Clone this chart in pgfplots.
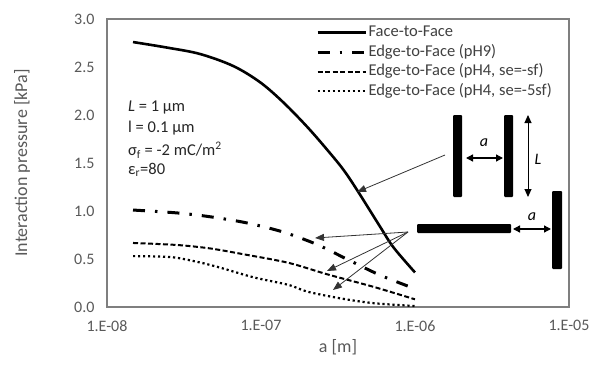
\documentclass[border=0pt]{standalone}
\usepackage{pgfplots}
\pgfplotsset{compat=1.18}
\usetikzlibrary{arrows.meta}
\usepackage{fontspec}
\setmainfont{Carlito}
\definecolor{txtgray}{HTML}{595959}
\definecolor{axgray}{HTML}{7F7F7F}
\definecolor{legtxt}{HTML}{404040}
\begin{document}
\begin{tikzpicture}
\useasboundingbox (-107pt,-58pt) rectangle (485pt,307pt);
\begin{axis}[
  scale only axis, width=462pt, height=288pt,
  xmode=log, xmin=1e-8, xmax=1e-5, ymin=0, ymax=3,
  xtick={1e-8,1e-7,1e-6,1e-5},
  xticklabels={1.E-08,1.E-07,1.E-06,1.E-05},
  ytick={0,0.5,1,1.5,2,2.5,3},
  yticklabel style={/pgf/number format/fixed, /pgf/number format/fixed zerofill, /pgf/number format/precision=1, xshift=-9pt},
  /pgf/number format/assume math mode=true,
  tick label style={font=\fontsize{16}{19}\selectfont, text=txtgray},
  xticklabel style={yshift=-10pt},
  major tick length=0pt, minor tick length=0pt,
  axis line style={axgray, line width=1.2pt},
  xlabel={a [m]}, ylabel={Interaction pressure [kPa]},
  label style={font=\fontsize{18}{21}\selectfont, text=txtgray},
  xlabel style={at={(axis description cs:0.5,-0.139)}, anchor=center},
  ylabel style={at={(axis description cs:-0.184,0.5)}, anchor=center},
  clip=false,
  legend image code/.code={\draw[#1] (0pt,0pt) -- (48pt,0pt);},
  legend cell align=left,
  legend style={at={(axis description cs:0.452,0.985)}, anchor=north west,
    draw=none, fill=none, font=\fontsize{16.5}{19}\selectfont, text=legtxt,
    row sep=1.5pt, inner sep=0pt,
    nodes={inner sep=1.5pt, text height=11.5pt, text depth=3.5pt}},
]
\addplot[black, line width=2.6pt, smooth, tension=0.55] coordinates {
 (1.476e-8,2.76) (2.5e-8,2.70) (4.03e-8,2.635) (6.61e-8,2.51) (9.89e-8,2.34)
 (1.40e-7,2.13) (2.00e-7,1.875) (2.70e-7,1.635) (3.43e-7,1.43) (4.24e-7,1.21)
 (5.97e-7,0.83) (7.26e-7,0.62) (1e-6,0.36)};
\addlegendentry{Face-to-Face}
\addplot[black, line width=3pt, dash pattern=on 12pt off 10pt on 2.5pt off 10pt, smooth, tension=0.5] coordinates {
 (1.476e-8,1.01) (2.85e-8,0.98) (4.68e-8,0.94) (8.15e-8,0.875) (1.40e-7,0.78)
 (2.32e-7,0.65) (3.70e-7,0.49) (5.97e-7,0.33) (1e-6,0.19)};
\addlegendentry{Edge-to-Face (pH9)}
\addplot[black, line width=2pt, dash pattern=on 5pt off 2.5pt, smooth, tension=0.5] coordinates {
 (1.476e-8,0.667) (2.85e-8,0.646) (4.68e-8,0.61) (7.67e-8,0.55) (1.51e-7,0.46)
 (2.70e-7,0.34) (5.38e-7,0.21) (1e-6,0.08)};
\addlegendentry{Edge-to-Face (pH4, se=-sf)}
\addplot[black, line width=2.2pt, dash pattern=on 2.2pt off 2.8pt, smooth, tension=0.5] coordinates {
 (1.476e-8,0.53) (2.6e-8,0.52) (3.86e-8,0.47) (5.43e-8,0.41) (8.91e-8,0.31)
 (1.51e-7,0.23) (2.00e-7,0.16) (3.28e-7,0.09) (5.38e-7,0.04) (1e-6,0.01)};
\addlegendentry{Edge-to-Face (pH4, se=-5sf)}
\end{axis}
\begin{scope}[shift={(-107pt,307pt)}, x=1pt, y=-1pt]
  % parameter text
  \begin{scope}[every node/.style={anchor=west, inner sep=0pt, text=black!85, font=\fontsize{16.5}{19}\selectfont}]
    \node at (128,108) {\textit{L} = 1 μm};
    \node at (128,128) {l = 0.1 μm};
    \node at (128,150) {σ\textsubscript{f} = -2 mC/m\textsuperscript{2}};
    \node at (128,170) {ε\textsubscript{r}=80};
  \end{scope}
  % face-to-face sketch
  \fill[black, rounded corners=1pt] (453,115) rectangle (462,197);
  \fill[black, rounded corners=1pt] (504,115) rectangle (513,197);
  \draw[black, line width=1.3pt, {Triangle[length=7pt,width=7pt]}-{Triangle[length=7pt,width=7pt]}] (466,158) -- (503,158);
  \node[font=\fontsize{16}{19}\selectfont\itshape, inner sep=0pt] at (484,143) {a};
  \draw[black, line width=1pt, {Triangle[length=8pt,width=7pt]}-{Triangle[length=8pt,width=7pt]}] (528,115) -- (528,197);
  \node[font=\fontsize{16}{19}\selectfont\itshape, inner sep=0pt] at (538,159) {L};
  % edge-to-face sketch
  \fill[black, rounded corners=1pt] (417,224) rectangle (511,233);
  \draw[black, line width=1.3pt, {Triangle[length=7pt,width=7pt]}-{Triangle[length=7pt,width=7pt]}] (513,229) -- (551,229);
  \node[font=\fontsize{16}{19}\selectfont\itshape, inner sep=0pt] at (532,217) {a};
  \fill[black, rounded corners=1pt] (552,191) rectangle (562,269);
  % pointer arrows
  \begin{scope}[draw=black!80, line width=0.8pt, -{Triangle[length=9pt,width=7pt]}]
    \draw (445,155) -- (357,192);
    \draw (408,232) -- (315,238);
    \draw (408,232) -- (327,271);
    \draw (408,232) -- (333,290);
  \end{scope}
\end{scope}
\end{tikzpicture}
\end{document}
